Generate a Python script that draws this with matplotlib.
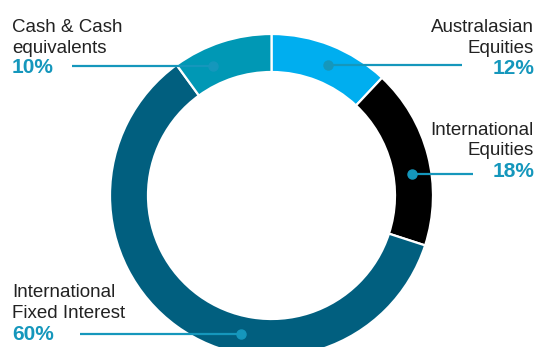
import numpy as np
import matplotlib
matplotlib.use("Agg")
import matplotlib.pyplot as plt

# ---- data ----
categories = ["Australasian\nEquities", "International\nEquities",
              "International\nFixed Interest", "Cash & Cash\nequivalents"]
values = [12, 18, 60, 10]
pct_labels = ["12%", "18%", "60%", "10%"]

# ---- style ----
colors = ["#00AEEF", "#000000", "#015F7F", "#0098B5"]
accent = "#1597BC"
text_col = "#222222"
anchor_frac = [0.54, 0.59, 0.39, 0.32]      # where along each slice the leader dot sits
dot_r = 0.88
line_end_x = [1.18, 1.248, -1.186, -1.235]  # data units
W, H = 542, 347
plt.rcParams['font.family'] = ['Liberation Sans', 'DejaVu Sans']

fig = plt.figure(figsize=(W / 100, H / 100), dpi=100)
ax = fig.add_axes([0, 0, 1, 1])
scale = 161.5
cx, cy = 271.5, 151.5

wedges, _ = ax.pie(values, colors=colors, startangle=90, counterclock=False,
                   radius=1.0, wedgeprops=dict(width=38 / scale, edgecolor='white', linewidth=1.6))
ax.set_xlim(-cx / scale, (W - cx) / scale)
ax.set_ylim(-cy / scale, (H - cy) / scale)
ax.set_aspect('equal')
ax.axis('off')

# leader dots & lines
total = sum(values)
cum = 0
for i, v in enumerate(values):
    ang_cw = (cum + anchor_frac[i] * v) / total * 360.0
    cum += v
    theta = np.deg2rad(90 - ang_cw)
    x, y = dot_r * np.cos(theta), dot_r * np.sin(theta)
    ax.plot([x, line_end_x[i]], [y, y], color=accent, lw=1.6, solid_capstyle='butt', zorder=3)
    ax.plot([x], [y], 'o', color=accent, ms=6.5, zorder=4)

# text labels (pixel positions from top-left)
def fx(px):
    return px / W
def fy(py):
    return 1 - py / H

label_pos = [  # (x, baseline line1, baseline line2, baseline pct, align)
    (534, 32, 53, 74, 'right'),
    (534, 135, 155, 177, 'right'),
    (12, 297, 318, 340, 'left'),
    (12, 32, 53, 73, 'left'),
]
for i, (x, b1, b2, b3, ha) in enumerate(label_pos):
    l1, l2 = categories[i].split("\n")
    fig.text(fx(x), fy(b1), l1, ha=ha, va='baseline', fontsize=13.5, color=text_col)
    fig.text(fx(x), fy(b2), l2, ha=ha, va='baseline', fontsize=13.5, color=text_col)
    fig.text(fx(x), fy(b3), pct_labels[i], ha=ha, va='baseline', fontsize=15,
             fontweight='bold', color=accent)

fig.savefig("out.png", dpi=100)
